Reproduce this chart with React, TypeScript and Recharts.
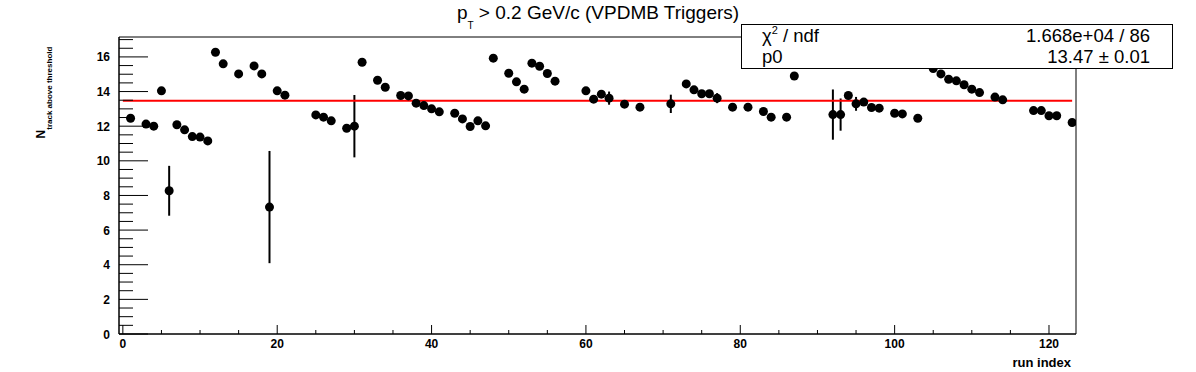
import React from 'react';
import {
  ComposedChart,
  Scatter,
  XAxis,
  YAxis,
  ErrorBar,
  ReferenceLine,
  ReferenceArea,
} from 'recharts';

// ---- data ----
const runs: number[] = [
  1, 3, 4, 5, 6, 7, 8, 9, 10, 11, 12, 13, 15, 17, 18, 19, 20, 21, 25, 26, 27, 29, 30, 31, 33, 34,
  36, 37, 38, 39, 40, 41, 43, 44, 45, 46, 47, 48, 50, 51, 52, 53, 54, 55, 56, 60, 61, 62, 63, 65,
  67, 71, 73, 74, 75, 76, 77, 79, 81, 83, 84, 86, 87, 92, 93, 94, 95, 96, 97, 98, 100, 101, 103,
  105, 106, 107, 108, 109, 110, 111, 113, 114, 118, 119, 120, 121, 123,
];
const values: number[] = [
  12.46, 12.12, 12.0, 14.04, 8.27, 12.08, 11.79, 11.4, 11.37, 11.15, 16.27, 15.6, 15.02, 15.48,
  15.02, 7.33, 14.04, 13.79, 12.65, 12.52, 12.31, 11.88, 12.0, 15.69, 14.65, 14.25,
  13.77, 13.75, 13.33, 13.19, 13.0, 12.83, 12.75, 12.42, 11.98, 12.31, 12.02, 15.93, 15.06, 14.56,
  14.14, 15.64, 15.46, 15.04, 14.6, 14.04, 13.56, 13.85, 13.62, 13.27,
  13.1, 13.29, 14.44, 14.1, 13.87, 13.87, 13.62, 13.1, 13.1, 12.85, 12.52, 12.52, 14.9, 12.67,
  12.67, 13.77, 13.29, 13.39, 13.08, 13.04, 12.75, 12.71, 12.46,
  15.33, 15.02, 14.71, 14.62, 14.39, 14.14, 13.94, 13.68, 13.52, 12.9, 12.9, 12.6, 12.6, 12.21,
];
const errors: number[] = [
  0.05, 0.05, 0.05, 0.05, 1.44, 0.05, 0.05, 0.05, 0.05, 0.05, 0.05, 0.05, 0.05, 0.05,
  0.05, 3.24, 0.05, 0.05, 0.05, 0.05, 0.05, 0.05, 1.8, 0.05, 0.05, 0.05,
  0.05, 0.05, 0.05, 0.05, 0.05, 0.05, 0.05, 0.05, 0.05, 0.05, 0.05, 0.05, 0.05, 0.05,
  0.05, 0.05, 0.05, 0.05, 0.05, 0.05, 0.05, 0.05, 0.38, 0.05,
  0.05, 0.53, 0.05, 0.05, 0.05, 0.05, 0.29, 0.05, 0.05, 0.05, 0.05, 0.05, 0.05, 1.45,
  0.93, 0.05, 0.4, 0.05, 0.05, 0.05, 0.05, 0.05, 0.05,
  0.05, 0.05, 0.05, 0.05, 0.05, 0.05, 0.05, 0.05, 0.05, 0.05, 0.05, 0.05, 0.05, 0.05,
];

const fitValue = 13.47;
const fitRange: [number, number] = [0, 123];

const xTicks: number[] = [0, 5, 10, 15, 20, 25, 30, 35, 40, 45, 50, 55, 60, 65, 70, 75, 80, 85, 90, 95, 100, 105, 110, 115, 120];
const xMajor: number[] = [0, 20, 40, 60, 80, 100, 120];
const yTicks: number[] = [0, 0.5, 1, 1.5, 2, 2.5, 3, 3.5, 4, 4.5, 5, 5.5, 6, 6.5, 7, 7.5, 8, 8.5, 9, 9.5, 10, 10.5, 11, 11.5, 12, 12.5, 13, 13.5, 14, 14.5, 15, 15.5, 16, 16.5, 17];
const yMajor: number[] = [0, 2, 4, 6, 8, 10, 12, 14, 16];

const xDomain: [number, number] = [-0.5, 123.5];
const yDomain: [number, number] = [0, 17.15];

const titleMain = 'p';
const titleSub = 'T';
const titleRest = ' > 0.2 GeV/c (VPDMB Triggers)';
const statLabel1 = 'χ';
const statLabel1Rest = ' / ndf';
const statValue1 = '1.668e+04 / 86';
const statLabel2 = 'p0';
const statValue2 = '13.47 ± 0.01';

const points = runs.map((r, i) => ({ run: r, val: values[i], err: errors[i] }));

const FONT = '"Liberation Sans", Arial, Helvetica, sans-serif';

const XTick = (p: any) => {
  const { x, y, payload } = p;
  const major = xMajor.includes(payload.value);
  return (
    <g>
      <line x1={x} x2={x} y1={y} y2={y - (major ? 9 : 4)} stroke="#000" strokeWidth={1} />
      {major && (
        <text x={x} y={y + 13.5} textAnchor="middle" fontFamily={FONT} fontWeight="bold" fontSize={12} fill="#000">
          {payload.value}
        </text>
      )}
    </g>
  );
};

const YTick = (p: any) => {
  const { x, y, payload } = p;
  const ax = x + 9;
  const major = yMajor.includes(payload.value);
  return (
    <g>
      <line x1={ax} x2={ax + (major ? 29 : 14)} y1={y} y2={y} stroke="#000" strokeWidth={1} />
      {major && (
        <text x={x} y={y + 4.5} textAnchor="end" fontFamily={FONT} fontWeight="bold" fontSize={12} fill="#000">
          {payload.value}
        </text>
      )}
    </g>
  );
};

const Dot = (p: any) => <circle cx={p.cx} cy={p.cy} r={4.5} fill="#000" />;

export default function App() {
  return (
    <div style={{ position: 'absolute', left: 0, top: 0, width: 1196, height: 372, background: '#fff' }}>
      <ComposedChart width={1196} height={372} margin={{ top: 37, right: 120, left: 0, bottom: 0 }}>
        <XAxis
          type="number"
          dataKey="run"
          domain={xDomain}
          allowDataOverflow
          ticks={xTicks}
          interval={0}
          tickSize={0}
          tickMargin={0}
          tick={(p: any) => <XTick {...p} />}
          height={38}
          axisLine={{ stroke: '#000', strokeWidth: 1 }}
        />
        <YAxis
          type="number"
          domain={yDomain}
          allowDataOverflow
          ticks={yTicks}
          interval={0}
          tickSize={0}
          tickMargin={9}
          tick={(p: any) => <YTick {...p} />}
          width={119}
          axisLine={{ stroke: '#000', strokeWidth: 1 }}
        />
        <ReferenceArea x1={xDomain[0]} x2={xDomain[1]} y1={yDomain[0]} y2={yDomain[1]} fill="none" fillOpacity={0} stroke="#000" strokeWidth={1} />
        <Scatter data={points} dataKey="val" fill="#000" shape={Dot} isAnimationActive={false}>
          <ErrorBar dataKey="err" direction="y" width={0} stroke="#000" strokeWidth={2} isAnimationActive={false} />
        </Scatter>
        <ReferenceLine
          segment={[
            { x: fitRange[0], y: fitValue },
            { x: fitRange[1], y: fitValue },
          ]}
          stroke="#ff0000"
          strokeWidth={2}
        />
      </ComposedChart>
      <svg width={1196} height={372} style={{ position: 'absolute', left: 0, top: 0, pointerEvents: 'none' }}>
        <text x={598} y={19} textAnchor="middle" fontFamily={FONT} fontSize={19} fill="#000">
          {titleMain}
          <tspan fontSize={10} dy={10}>{titleSub}</tspan>
          <tspan dy={-10}>{titleRest}</tspan>
        </text>
        <text transform="translate(45,92.5) rotate(-90)" textAnchor="middle" fontFamily={FONT} fontWeight="bold" fill="#000">
          <tspan fontSize={12}>N</tspan>
          <tspan fontSize={8} dy={6.5}>track above threshold</tspan>
        </text>
        <text x={1071} y={367} textAnchor="end" fontFamily={FONT} fontWeight="bold" fontSize={13} fill="#000">
          run index
        </text>
        <rect x={741.5} y={24.5} width={431} height={44} fill="#fff" stroke="#000" strokeWidth={1} />
        <text x={762} y={42} fontFamily={FONT} fontSize={18.5} fill="#000">
          {statLabel1}
          <tspan fontSize={11} dy={-8}>2</tspan>
          <tspan dy={8}>{statLabel1Rest}</tspan>
        </text>
        <text x={1150} y={42} textAnchor="end" fontFamily={FONT} fontSize={18.5} fill="#000">
          {statValue1}
        </text>
        <text x={762} y={62.5} fontFamily={FONT} fontSize={18.5} fill="#000">
          {statLabel2}
        </text>
        <text x={1150} y={62.5} textAnchor="end" fontFamily={FONT} fontSize={18.5} fill="#000">
          {statValue2}
        </text>
      </svg>
    </div>
  );
}
